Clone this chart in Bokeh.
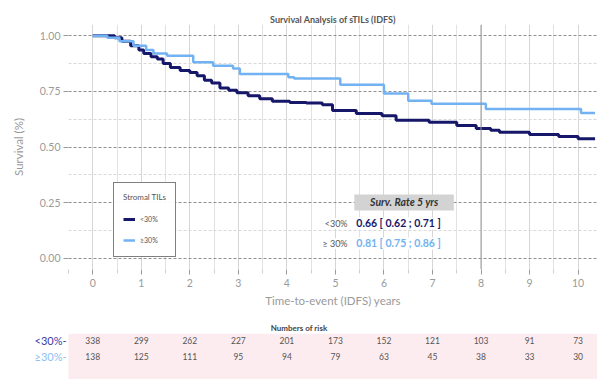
from bokeh.plotting import figure
from bokeh.layouts import column
from bokeh.models import (Range1d, Label, BoxAnnotation, Legend, LegendItem,
                          FixedTicker, Span, ColumnDataSource)
from bokeh.core.properties import value
from bokeh.embed import file_html
from bokeh.resources import INLINE

# Kaplan-Meier step curves (time in years, survival probability)
low_t = [0, 0.45, 0.6, 0.78, 0.95, 1.05, 1.2, 1.33, 1.45, 1.6, 1.8, 2.0, 2.15, 2.3,
         2.45, 2.62, 2.8, 2.97, 3.2, 3.44, 3.7, 4.06, 4.4, 4.73, 4.94, 5.43, 5.96,
         6.25, 6.93, 7.5, 7.9, 8.2, 8.38, 9.0, 9.6, 10.0, 10.35]
low_s = [1.0, 0.99, 0.975, 0.955, 0.935, 0.92, 0.905, 0.895, 0.875, 0.857, 0.843,
         0.835, 0.82, 0.80, 0.787, 0.765, 0.755, 0.744, 0.73, 0.717, 0.705, 0.70,
         0.698, 0.69, 0.664, 0.65, 0.64, 0.62, 0.611, 0.596, 0.583, 0.575, 0.566,
         0.556, 0.547, 0.537, 0.537]

high_t = [0, 0.3, 0.55, 0.84, 1.1, 1.25, 1.53, 2.07, 2.48, 2.89, 3.03, 4.03, 4.15,
          5.1, 6.0, 6.5, 6.98, 8.1, 10.06, 10.35]
high_s = [1.0, 0.99, 0.975, 0.955, 0.935, 0.92, 0.91, 0.88, 0.865, 0.852, 0.828,
          0.813, 0.807, 0.78, 0.74, 0.708, 0.694, 0.671, 0.653, 0.653]

groups = ["<30%", "\u226530%"]
group_colors = ["#17176a", "#72b2f2"]
label_colors = ["#3d3da8", "#8cc0f2"]

# 5-year survival rate with confidence interval
rate5 = [0.66, 0.81]
rate5_lo = [0.62, 0.75]
rate5_hi = [0.71, 0.86]

# numbers at risk at each year
years = list(range(11))
risk_low = [338, 299, 262, 227, 201, 173, 152, 121, 103, 91, 73]
risk_high = [138, 125, 111, 95, 94, 79, 63, 45, 38, 33, 30]

FONT = "Lato"
GRAY = "#9a9a9a"
X0, X1 = -0.5, 10.4
LEFT = 68
W = 597

p = figure(width=W, height=315, x_range=Range1d(X0, X1),
           y_range=Range1d(-0.05, 1.05), output_backend="svg",
           toolbar_location=None, min_border_left=LEFT, min_border_right=0,
           min_border_top=24, min_border_bottom=46)
p.frame_align = False
p.outline_line_color = None
p.background_fill_color = "white"

p.title.text = "Survival Analysis of sTILs (IDFS)"
p.title.align = "center"
p.title.text_font = FONT
p.title.text_font_size = "9px"
p.title.text_font_style = "bold"
p.title.text_color = "#555555"
p.title.standoff = 0

# axes
p.xaxis.ticker = FixedTicker(ticks=years, minor_ticks=[y + 0.5 for y in range(-1, 11)])
p.yaxis.ticker = FixedTicker(ticks=[0, 0.25, 0.5, 0.75, 1.0],
                             minor_ticks=[0.125, 0.375, 0.625, 0.875])
p.yaxis.major_label_overrides = {0: "0.00", 0.25: "0.25", 0.5: "0.50",
                                 0.75: "0.75", 1.0: "1.00"}
for ax in (p.xaxis[0], p.yaxis[0]):
    ax.axis_line_color = None
    ax.major_tick_line_color = GRAY
    ax.minor_tick_line_color = "#cfcfcf"
    ax.major_tick_out = 5
    ax.major_tick_in = 0
    ax.minor_tick_out = 4
    ax.minor_tick_in = 0
    ax.major_label_text_color = GRAY
    ax.major_label_text_font = FONT
    ax.major_label_text_font_size = "10.5px"
    ax.axis_label_text_color = GRAY
    ax.axis_label_text_font = FONT
    ax.axis_label_text_font_size = "11.5px"
    ax.axis_label_text_font_style = "normal"
p.yaxis.minor_tick_line_color = None
p.xaxis.axis_label = "Time-to-event (IDFS) years"
p.yaxis.axis_label = "Survival (%)"
p.xaxis.major_label_standoff = 4
p.xaxis.axis_label_standoff = 4
p.yaxis.major_label_standoff = 3
p.yaxis.axis_label_standoff = 12

# grid
p.xgrid.grid_line_color = "#d6d6d6"
p.xgrid.minor_grid_line_color = "#e2e2e2"
p.ygrid.grid_line_color = "#8f8f8f"
p.ygrid.grid_line_dash = "3 2"
p.ygrid.minor_grid_line_color = "#d8d8d8"
p.ygrid.minor_grid_line_dash = "3 2"
p.add_layout(Span(location=8, dimension="height", line_color="#999999", line_width=1))

# curves
r_low = p.step(low_t, low_s, mode="after", line_width=3, line_color=group_colors[0])
r_high = p.step(high_t, high_s, mode="after", line_width=2.5, line_color=group_colors[1])

legend = Legend(items=[LegendItem(label=groups[0], renderers=[r_low]),
                       LegendItem(label=groups[1], renderers=[r_high])],
                title="Stromal TILs", location=(45, 12))
legend.border_line_color = "black"
legend.border_line_width = 1.5
legend.title_text_font = FONT
legend.title_text_font_size = "8px"
legend.title_text_font_style = "normal"
legend.title_text_color = "#555555"
legend.label_text_font = FONT
legend.label_text_font_size = "7px"
legend.label_text_color = "#555555"
legend.glyph_width = 12
legend.glyph_height = 14
legend.label_height = 14
legend.padding = 9
legend.spacing = 7
legend.title_standoff = 10
legend.margin = 0
p.add_layout(legend)

# 5-year survival rate table
p.add_layout(BoxAnnotation(left=5.39, right=7.44, bottom=0.215, top=0.287,
                           fill_color="#d3d3d3", fill_alpha=1, line_color=None))
p.add_layout(Label(x=6.42, y=0.251, text="Surv. Rate 5 yrs", text_align="center",
                   text_baseline="middle", text_font=FONT, text_font_size="10.5px",
                   text_font_style="bold italic", text_color="#333333"))
row_y = [0.157, 0.067]
row_names = ["<30%", "\u2265 30%"]
for i in range(2):
    p.add_layout(Label(x=5.25, y=row_y[i], text=row_names[i], text_align="right",
                       text_baseline="middle", text_font=FONT, text_font_size="9px",
                       text_color="#555555", background_fill_color="white"))
    txt = "%.2f [ %.2f ; %.2f ]" % (rate5[i], rate5_lo[i], rate5_hi[i])
    p.add_layout(Label(x=5.43, y=row_y[i], text=txt, text_align="left",
                       text_baseline="middle", text_font=FONT, text_font_size="10.5px",
                       text_font_style="bold", text_color=group_colors[i],
                       background_fill_color="white"))

# numbers at risk: frame spans the full width, same px-per-year as the main plot
qx0 = X0 - LEFT * (X1 - X0) / (W - LEFT)
q = figure(width=W, height=64, x_range=Range1d(qx0, X1), y_range=Range1d(-1.44, 1.44),
           output_backend="svg", toolbar_location=None, min_border_left=0,
           min_border_right=0, min_border_top=18, min_border_bottom=0)
q.frame_align = False
q.background_fill_color = "white"
q.outline_line_color = None
q.xaxis.visible = False
q.yaxis.visible = False
q.xgrid.visible = False
q.ygrid.visible = False

q.title.text = "Numbers of risk"
q.title.align = "center"
q.title.offset = (LEFT + (W - LEFT) / 2) - W / 2
q.title.text_font = FONT
q.title.text_font_size = "8px"
q.title.text_font_style = "bold"
q.title.text_color = "#444444"
q.title.standoff = 2

q.add_layout(BoxAnnotation(left=X0, right=X1, fill_color="#fdecef", fill_alpha=1,
                           line_color=None, level="underlay"))

risk_src = ColumnDataSource(dict(
    x=years + years,
    y=[1] * len(years) + [0] * len(years),
    t=[str(v) for v in risk_low] + [str(v) for v in risk_high]))
q.text(x="x", y="y", text="t", source=risk_src, text_align="center",
       text_baseline="middle", text_font=value(FONT), text_font_size="8.5px",
       text_color="#555555")

lab_src = ColumnDataSource(dict(x=[X0 - 0.04] * 2, y=[1, 0],
                                t=[g + "-" for g in groups], c=label_colors))
q.text(x="x", y="y", text="t", source=lab_src, text_align="right",
       text_baseline="middle", text_font=value(FONT), text_font_size="11px",
       text_color="c")

layout = column(p, q, spacing=0)
open("out.html", "w").write(file_html(layout, INLINE))
